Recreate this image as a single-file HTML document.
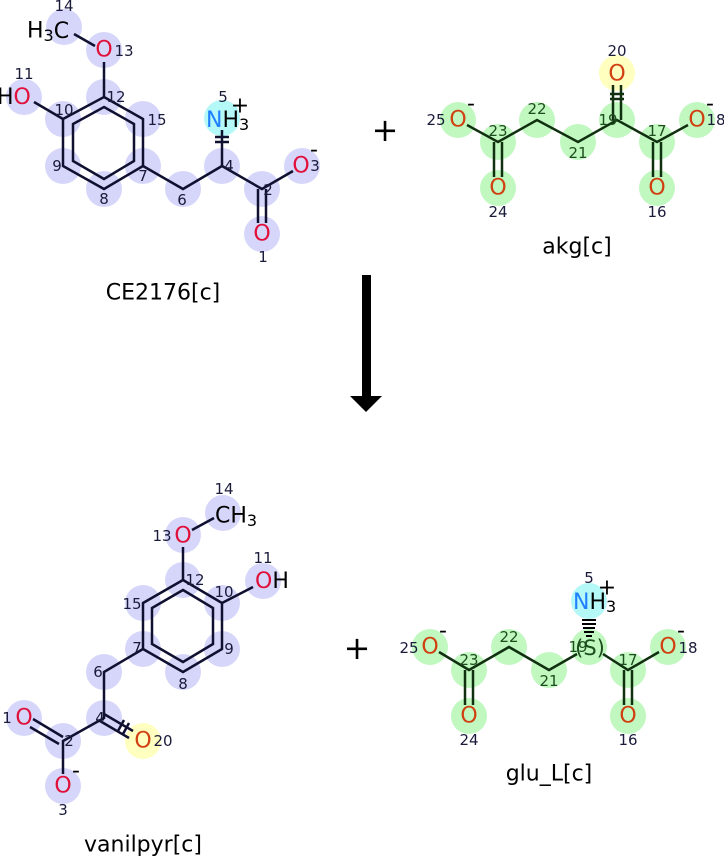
<!DOCTYPE html>
<html><head><meta charset="utf-8"><style>
html,body{margin:0;padding:0;background:#fff;}
svg{display:block;}
text{font-family:"DejaVu Sans","Liberation Sans",sans-serif;}
.a{font-size:22px;text-anchor:middle;dominant-baseline:central;}
.al{font-size:22px;text-anchor:start;dominant-baseline:central;}
.n{font-size:15px;text-anchor:middle;dominant-baseline:central;fill:#1a1a3a;}
.g{fill:#1d4d1d;}
.r{fill:#e0103a;}
.o{fill:#d04010;}
.k{fill:#000;}
.b{stroke:#101030;stroke-width:2.5;fill:none;}
.bg{stroke:#103010;stroke-width:2.5;fill:none;}
.cb{fill:#d6d6fa;}
.cg{fill:#c0f8c0;}
.cy{fill:#ffffc0;}
.cc{fill:#b4f8f8;}
.nm{font-size:22px;text-anchor:middle;dominant-baseline:central;}
</style></head><body>
<svg width="724" height="858" viewBox="0 0 724 858" xmlns="http://www.w3.org/2000/svg">
<!-- ===== CE2176 ===== -->
<g class="cb">
<circle cx="64" cy="27" r="18"/><circle cx="104" cy="50" r="18"/><circle cx="104" cy="97" r="18"/>
<circle cx="63" cy="119" r="18"/><circle cx="63" cy="166" r="18"/><circle cx="104" cy="189" r="18"/>
<circle cx="143" cy="166" r="18"/><circle cx="143" cy="119" r="18"/><circle cx="24" cy="97" r="18"/>
<circle cx="183" cy="189" r="18"/><circle cx="222" cy="166" r="18"/><circle cx="262" cy="189" r="18"/>
<circle cx="302" cy="166" r="18"/><circle cx="262" cy="234" r="18"/>
</g>
<circle class="cc" cx="222" cy="118" r="18"/>
<g class="b">
<line x1="74" y1="34" x2="95" y2="46"/>
<line x1="104" y1="62" x2="104" y2="97"/>
<polygon points="104,97 143,119 143,166 104,189 63,166 63,119"/>
<polygon points="104,107 134,124 134,161 104,179 73,161 73,124"/>
<line x1="63" y1="119" x2="34" y2="102"/>
<polyline points="143,166 183,189 222,166 262,189 293,171"/>
<line x1="258" y1="189" x2="258" y2="223"/><line x1="266" y1="189" x2="266" y2="223"/>
<line x1="222" y1="166" x2="222" y2="130"/>
<line x1="215" y1="137" x2="229" y2="137"/><line x1="215" y1="142" x2="229" y2="142"/>
</g>
<text class="al k" x="27" y="31">H<tspan font-size="16" dy="4">3</tspan><tspan dy="-4">C</tspan></text>
<text class="a r" x="104" y="50">O</text>
<text class="al" x="-3" y="97"><tspan class="k">H</tspan><tspan class="r">O</tspan></text>
<text class="al" x="206" y="120"><tspan style="fill:#2080ff">N</tspan><tspan class="k">H</tspan><tspan class="k" font-size="16" dy="4">3</tspan></text>
<text class="a k" x="240" y="106">+</text>
<text class="a r" x="301" y="166">O</text><text class="a k" x="314" y="150" font-size="18">-</text>
<text class="a r" x="262" y="234">O</text>
<g class="n">
<text x="64" y="6">14</text><text x="124" y="51">13</text><text x="116" y="97">12</text><text x="64" y="110">10</text>
<text x="57" y="166">9</text><text x="104" y="199">8</text><text x="143" y="176">7</text><text x="157" y="120">15</text>
<text x="24" y="74">11</text><text x="182" y="200">6</text><text x="229" y="166">4</text><text x="223" y="97">5</text>
<text x="268" y="190">2</text><text x="315" y="166">3</text><text x="263" y="257">1</text>
</g>
<text class="nm" x="163" y="293">CE2176[c]</text>

<!-- plus -->
<text x="385" y="130" style="font-size:32px;text-anchor:middle;dominant-baseline:central;">+</text>
<text x="357" y="648" style="font-size:32px;text-anchor:middle;dominant-baseline:central;">+</text>

<!-- ===== akg ===== -->
<g class="cg">
<circle cx="458" cy="120" r="18"/><circle cx="498" cy="142" r="18"/><circle cx="537" cy="120" r="18"/>
<circle cx="578" cy="142" r="18"/><circle cx="617" cy="120" r="18"/><circle cx="657" cy="142" r="18"/>
<circle cx="657" cy="188" r="18"/><circle cx="697" cy="120" r="18"/><circle cx="498" cy="188" r="18"/>
</g>
<circle class="cy" cx="617" cy="73" r="18"/>
<g class="bg">
<polyline points="467,125 498,142 537,120 578,142 617,120 657,142 688,125"/>
<line x1="494" y1="142" x2="494" y2="177"/><line x1="502" y1="142" x2="502" y2="177"/>
<line x1="653" y1="142" x2="653" y2="177"/><line x1="661" y1="142" x2="661" y2="177"/>
<line x1="613" y1="120" x2="613" y2="85"/><line x1="621" y1="120" x2="621" y2="85"/>
<line x1="610" y1="94" x2="624" y2="94"/><line x1="610" y1="99" x2="624" y2="99"/>
</g>
<text class="a o" x="458" y="120">O</text><text class="a k" x="471" y="104" font-size="18">-</text>
<text class="a o" x="697" y="120">O</text><text class="a k" x="710" y="104" font-size="18">-</text>
<text class="a o" x="498" y="188">O</text><text class="a o" x="657" y="188">O</text><text class="a o" x="617" y="74">O</text>
<g class="n">
<text x="436" y="120">25</text><text x="498" y="131" class="g">23</text><text x="537" y="109" class="g">22</text>
<text x="578" y="153" class="g">21</text><text x="608" y="120" class="g">19</text><text x="657" y="131" class="g">17</text>
<text x="716" y="120">18</text><text x="498" y="212">24</text><text x="657" y="212">16</text><text x="617" y="51">20</text>
</g>
<text class="nm" x="577" y="247">akg[c]</text>

<!-- arrow -->
<rect x="362" y="275" width="9" height="123" fill="#000"/>
<polygon points="350,396 382,396 366,412" fill="#000"/>

<!-- ===== vanilpyr ===== -->
<g class="cb">
<circle cx="223" cy="513" r="18"/><circle cx="183" cy="535" r="18"/><circle cx="183" cy="580" r="18"/>
<circle cx="222" cy="603" r="18"/><circle cx="222" cy="649" r="18"/><circle cx="183" cy="672" r="18"/>
<circle cx="143" cy="649" r="18"/><circle cx="143" cy="603" r="18"/><circle cx="263" cy="581" r="18"/>
<circle cx="104" cy="672" r="18"/><circle cx="104" cy="718" r="18"/><circle cx="63" cy="741" r="18"/>
<circle cx="24" cy="718" r="18"/><circle cx="63" cy="786" r="18"/>
</g>
<circle class="cy" cx="143" cy="741" r="18"/>
<g class="b">
<line x1="192" y1="530" x2="214" y2="518"/>
<line x1="183" y1="580" x2="183" y2="547"/>
<polygon points="183,580 222,603 222,649 183,672 143,649 143,603"/>
<polygon points="183,590 213,608 213,644 183,662 152,644 152,608"/>
<line x1="222" y1="603" x2="253" y2="587"/>
<polyline points="143,649 104,672 104,718 63,741 63,774"/>
<line x1="63" y1="737" x2="33" y2="719"/><line x1="59" y1="744" x2="30" y2="727"/>
<line x1="104" y1="714" x2="133" y2="731"/><line x1="100" y1="721" x2="129" y2="738"/>
<line x1="118" y1="731" x2="124" y2="720"/><line x1="123" y1="734" x2="129" y2="723"/>
</g>
<text class="al k" x="215" y="516">CH<tspan font-size="16" dy="4">3</tspan></text>
<text class="a r" x="183" y="536">O</text>
<text class="al" x="255" y="581"><tspan class="r">O</tspan><tspan class="k">H</tspan></text>
<text class="a r" x="24" y="718">O</text>
<text class="a r" x="63" y="786">O</text><text class="a k" x="76" y="771" font-size="18">-</text>
<text class="a o" x="143" y="741">O</text>
<g class="n">
<text x="224" y="489">14</text><text x="162" y="536">13</text><text x="195" y="580">12</text><text x="224" y="592">10</text>
<text x="229" y="649">9</text><text x="183" y="684">8</text><text x="137" y="648">7</text><text x="132" y="604">15</text>
<text x="263" y="558">11</text><text x="98" y="672">6</text><text x="100" y="718">4</text><text x="69" y="741">2</text>
<text x="7" y="718">1</text><text x="63" y="810">3</text><text x="163" y="741">20</text>
</g>
<text class="nm" x="143" y="845">vanilpyr[c]</text>

<!-- ===== glu_L ===== -->
<g class="cg">
<circle cx="430" cy="647" r="18"/><circle cx="469" cy="670" r="18"/><circle cx="509" cy="647" r="18"/>
<circle cx="549" cy="670" r="18"/><circle cx="589" cy="647" r="18"/><circle cx="628" cy="670" r="18"/>
<circle cx="628" cy="716" r="18"/><circle cx="668" cy="647" r="18"/><circle cx="469" cy="716" r="18"/>
</g>
<circle class="cc" cx="589" cy="601" r="18"/>
<g class="bg">
<polyline points="439,652 469,670 509,647 549,670 577,654"/>
<polyline points="603,654 628,670 659,652"/>
<line x1="465" y1="670" x2="465" y2="705"/><line x1="473" y1="670" x2="473" y2="705"/>
<line x1="624" y1="670" x2="624" y2="705"/><line x1="632" y1="670" x2="632" y2="705"/>
</g>
<g stroke="#000" stroke-width="2">
<line x1="582" y1="620" x2="596" y2="620"/><line x1="582" y1="624" x2="596" y2="624"/>
<line x1="583" y1="628" x2="595" y2="628"/><line x1="584" y1="632" x2="594" y2="632"/>
<line x1="586" y1="636" x2="592" y2="636"/>
</g>
<text class="al" x="573" y="602"><tspan style="fill:#2080ff">N</tspan><tspan class="k">H</tspan><tspan class="k" font-size="16" dy="4">3</tspan></text>
<text class="a k" x="607" y="588">+</text>
<text class="a o" x="430" y="647">O</text><text class="a k" x="443" y="631" font-size="18">-</text>
<text class="a o" x="668" y="647">O</text><text class="a k" x="681" y="631" font-size="18">-</text>
<text class="a o" x="469" y="716">O</text><text class="a o" x="628" y="716">O</text>
<text class="a g" x="590" y="648" style="font-size:21px">(S)</text>
<g class="n">
<text x="409" y="648">25</text><text x="469" y="660" class="g">23</text><text x="509" y="637" class="g">22</text>
<text x="549" y="681" class="g">21</text><text x="578" y="647" class="g">19</text><text x="628" y="660" class="g">17</text>
<text x="688" y="648">18</text><text x="469" y="740">24</text><text x="628" y="740">16</text><text x="589" y="578">5</text>
</g>
<text class="nm" x="549" y="774">glu_L[c]</text>
</svg>
</body></html>
